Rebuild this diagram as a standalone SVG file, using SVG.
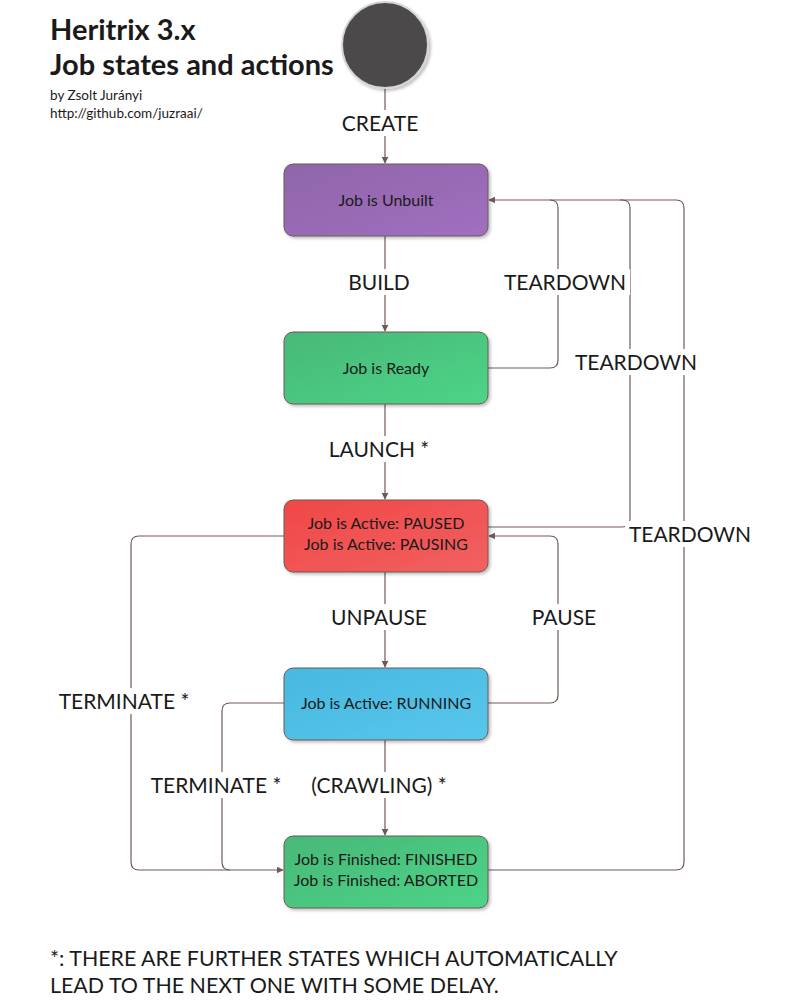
<svg xmlns="http://www.w3.org/2000/svg" width="800" height="1000" viewBox="0 0 800 1000">
<style>
text{font-family:Lato,"Open Sans","Liberation Sans",sans-serif;fill:#1a1a1a}
.title{font-size:29px;font-weight:bold}
.sub{font-size:13.5px}
.lbl{font-size:21px;text-anchor:middle}
.nt{font-size:16px;text-anchor:middle}
.foot{font-size:21.4px}
.node{stroke:#6a5a55;stroke-width:1}
.c{fill:none;stroke:#705a55;stroke-width:1.2}
.bg{fill:#fff}
</style>
<defs>
<marker id="ar" viewBox="0 0 10 10" refX="9" refY="5" markerWidth="7" markerHeight="7" orient="auto" markerUnits="userSpaceOnUse">
<path d="M0,0 L10,5 L0,10 z" fill="#705a55"/>
</marker>
<linearGradient id="gP" x1="0" y1="0" x2="1" y2="1"><stop offset="0" stop-color="#8f66a8"/><stop offset="1" stop-color="#a06fc0"/></linearGradient>
<linearGradient id="gG" x1="0" y1="0" x2="1" y2="1"><stop offset="0" stop-color="#48b878"/><stop offset="1" stop-color="#4dd488"/></linearGradient>
<linearGradient id="gR" x1="0" y1="0" x2="1" y2="1"><stop offset="0" stop-color="#f04848"/><stop offset="1" stop-color="#f26060"/></linearGradient>
<linearGradient id="gB" x1="0" y1="0" x2="1" y2="1"><stop offset="0" stop-color="#47b8e0"/><stop offset="1" stop-color="#58c6ec"/></linearGradient>
<filter id="sh" x="-10%" y="-10%" width="130%" height="130%"><feDropShadow dx="2" dy="2" stdDeviation="1.5" flood-color="#000" flood-opacity="0.25"/></filter>
</defs>
<rect width="800" height="1000" fill="#fff"/>
<g id="title">
<text class="title" x="50" y="40">Heritrix 3.x</text>
<text class="title" x="50" y="75">Job states and actions</text>
<text class="sub" x="50" y="100">by Zsolt Jurányi</text>
<text class="sub" x="50" y="118">http://github.com/juzraai/</text>
</g>
<g id="connectors">
<path class="c" d="M385,88 V163" marker-end="url(#ar)"/>
<path class="c" d="M385,236 V331" marker-end="url(#ar)"/>
<path class="c" d="M385,404 V499" marker-end="url(#ar)"/>
<path class="c" d="M385,572 V667" marker-end="url(#ar)"/>
<path class="c" d="M385,740 V835" marker-end="url(#ar)"/>
<path class="c" d="M488,368 H550 Q558,368 558,360 V208 Q558,200 550,200 H489" marker-end="url(#ar)"/>
<path class="c" d="M488,527 H622 Q630,527 630,519 V208 Q630,200 622,200 H550"/>
<path class="c" d="M488,870 H676 Q684,870 684,862 V208 Q684,200 676,200 H620"/>
<path class="c" d="M488,703 H550 Q558,703 558,695 V544 Q558,536 550,536 H489" marker-end="url(#ar)"/>
<path class="c" d="M284,536 H139 Q131,536 131,544 V862 Q131,870 139,870 H283" marker-end="url(#ar)"/>
<path class="c" d="M284,703 H230 Q222,703 222,711 V862 Q222,870 230,870"/>
<rect class="bg" x="334" y="110" width="92" height="26"/>
<text class="lbl" x="380" y="131">CREATE</text>
<rect class="bg" x="342" y="269" width="74" height="26"/>
<text class="lbl" x="379" y="290">BUILD</text>
<rect class="bg" x="500" y="269" width="130" height="26"/>
<text class="lbl" x="565" y="290">TEARDOWN</text>
<rect class="bg" x="571" y="349" width="130" height="26"/>
<text class="lbl" x="636" y="370">TEARDOWN</text>
<rect class="bg" x="324" y="436" width="112" height="26"/>
<text class="lbl" x="379" y="457">LAUNCH *</text>
<rect class="bg" x="625" y="521" width="130" height="26"/>
<text class="lbl" x="690" y="542">TEARDOWN</text>
<rect class="bg" x="325" y="604" width="108" height="26"/>
<text class="lbl" x="379" y="625">UNPAUSE</text>
<rect class="bg" x="524" y="604" width="80" height="26"/>
<text class="lbl" x="564" y="625">PAUSE</text>
<rect class="bg" x="52" y="688" width="144" height="26"/>
<text class="lbl" x="124" y="709">TERMINATE *</text>
<rect class="bg" x="144" y="772" width="144" height="26"/>
<text class="lbl" x="216" y="793">TERMINATE *</text>
<rect class="bg" x="304" y="772" width="150" height="26"/>
<text class="lbl" x="379" y="793">(CRAWLING) *</text>
</g>
<g id="start">
<circle cx="385" cy="45" r="43" fill="#4b4949" stroke="#d8d4d0" stroke-width="2" filter="url(#sh)"/>
</g>
<g id="unbuilt">
<rect class="node" x="284" y="164" width="204" height="72" rx="9" fill="url(#gP)" filter="url(#sh)"/>
<text class="nt" x="386" y="205.5">Job is Unbuilt</text>
</g>
<g id="ready">
<rect class="node" x="284" y="332" width="204" height="72" rx="9" fill="url(#gG)" filter="url(#sh)"/>
<text class="nt" x="386" y="373.5">Job is Ready</text>
</g>
<g id="active">
<rect class="node" x="284" y="500" width="204" height="72" rx="9" fill="url(#gR)" filter="url(#sh)"/>
<text class="nt" x="386" y="529">Job is Active: PAUSED</text>
<text class="nt" x="386" y="550">Job is Active: PAUSING</text>
</g>
<g id="running">
<rect class="node" x="284" y="668" width="204" height="72" rx="9" fill="url(#gB)" filter="url(#sh)"/>
<text class="nt" x="386" y="708.5">Job is Active: RUNNING</text>
</g>
<g id="finished">
<rect class="node" x="284" y="836" width="204" height="72" rx="9" fill="url(#gG)" filter="url(#sh)"/>
<text class="nt" x="386" y="865">Job is Finished: FINISHED</text>
<text class="nt" x="386" y="886">Job is Finished: ABORTED</text>
</g>
<g id="footnote">
<text class="foot" x="50" y="966">*: THERE ARE FURTHER STATES WHICH AUTOMATICALLY</text>
<text class="foot" x="50" y="993">LEAD TO THE NEXT ONE WITH SOME DELAY.</text>
</g>
</svg>
